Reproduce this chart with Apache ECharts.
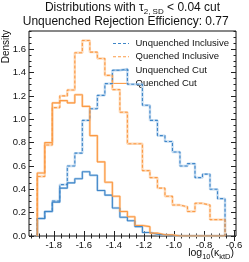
<!DOCTYPE html>
<html><head><meta charset="utf-8">
<script src="https://cdn.jsdelivr.net/npm/echarts@6/dist/echarts.min.js"></script>
<style>html,body{margin:0;padding:0;background:#fff}#c{width:249px;height:262px}</style>
</head><body><div id="c"></div>
<script>
const binEdges = [-1.91,-1.86,-1.81,-1.76,-1.71,-1.66,-1.61,-1.56,-1.51,-1.46,-1.41,-1.36,-1.31,-1.26,-1.21,-1.16,-1.11,-1.06,-1.01,-0.96,-0.91,-0.86,-0.81,-0.76,-0.71,-0.66];
const unquenchedInclusive = [0.15,0.21,0.30,0.44,0.60,0.71,0.99,1.09,1.205,1.305,1.42,1.43,1.30,1.30,1.12,0.99,0.86,0.81,0.72,0.60,0.62,0.50,0.53,0.40,0.32];
const quenchedInclusive = [0.51,0.78,1.10,1.20,1.25,1.57,1.675,1.575,1.52,1.376,1.254,1.06,0.79,0.79,0.56,0.50,0.41,0.34,0.265,0.25,0.21,0.28,0.265,0.14,0.14];
const unquenchedCut = [0.15,0.21,0.29,0.41,0.455,0.49,0.55,0.52,0.39,0.35,0.24,0.16,0.13,0.08,0.03,0.015,0.01,0.005,0,0,0,0,0,0,0];
const quenchedCut = [0.54,0.80,1.14,1.16,1.14,1.21,1.11,0.86,0.635,0.46,0.34,0.21,0.165,0.09,0.08,0.025,0.01,0.01,0,0,0,0,0,0,0];
const xMajorTicks = [-1.8,-1.6,-1.4,-1.2,-1.0,-0.8,-0.6];
const xMinorTicks = [-1.95,-1.9,-1.85,-1.75,-1.7,-1.65,-1.55,-1.5,-1.45,-1.35,-1.3,-1.25,-1.15,-1.1,-1.05,-0.95,-0.9,-0.85,-0.75,-0.7,-0.65];
const yMajorTicks = [0,0.2,0.4,0.6,0.8,1.0,1.2,1.4,1.6];
const yMinorTicks = [0.05,0.1,0.15,0.25,0.3,0.35,0.45,0.5,0.55,0.65,0.7,0.75,0.85,0.9,0.95,1.05,1.1,1.15,1.25,1.3,1.35,1.45,1.5,1.55,1.65,1.7,1.75];
const names = ['Unquenched Inclusive','Quenched Inclusive','Unquenched Cut','Quenched Cut'];

function stepData(vals){
  const last = binEdges.length-1;
  const d = [[binEdges[0],0]];
  vals.forEach((v,i)=>d.push([binEdges[i],v]));
  d.push([binEdges[last], vals[vals.length-1]]);
  d.push([binEdges[last], 0]);
  return d;
}
const XMIN=-1.965, XMAX=-0.587, YMIN=0, YMAX=1.756;
const FONT='Liberation Sans';
function xAx(pos, vals, len, labels){
  return {type:'value', gridIndex:0, position:pos, min:XMIN, max:XMAX,
    axisLine:{show:false}, splitLine:{show:false},
    axisTick:{show:true, inside:true, length:len, customValues:vals, lineStyle:{color:'#222',width:1}},
    axisLabel:{show:labels, customValues:vals, fontFamily:FONT, fontSize:9.5, color:'#111', margin:4,
      formatter:v=>v.toFixed(1)}};
}
function yAx(pos, vals, len, labels){
  return {type:'value', gridIndex:0, position:pos, min:YMIN, max:YMAX,
    axisLine:{show:false}, splitLine:{show:false},
    axisTick:{show:true, inside:true, length:len, customValues:vals, lineStyle:{color:'#222',width:1}},
    axisLabel:{show:labels, customValues:vals, fontFamily:FONT, fontSize:9.5, color:'#111', margin:3,
      formatter:v=>v.toFixed(1)}};
}
const BLUE='#3f86c8', ORANGE='#fb9a45';
const BLUE_L='#a9cbea', ORANGE_L='#fcc99a';
const styles = [
  {vals:unquenchedInclusive, color:BLUE, light:BLUE_L, dashed:true},
  {vals:quenchedInclusive, color:ORANGE, light:ORANGE_L, dashed:true},
  {vals:unquenchedCut, color:BLUE, light:BLUE_L, dashed:false},
  {vals:quenchedCut, color:ORANGE, light:ORANGE_L, dashed:false}
];
const series = [];
styles.forEach((s,i)=>{
  series.push({name:names[i]+' (band)', type:'line', step:'end', data:stepData(s.vals), symbol:'none', z:1,
    lineStyle:{color:s.light, width:2.4, opacity:0.7}, silent:true, animation:false});
});
styles.forEach((s,i)=>{
  series.push({name:names[i], type:'line', step:'end', data:stepData(s.vals), symbol:'none', z:2,
    lineStyle:{color:s.color, width:1.1, type: s.dashed ? [3,2] : 'solid'}, animation:false});
});
const legendGraphics = [];
styles.forEach((s,i)=>{
  const y = 43.5 + 13.3*i;
  legendGraphics.push({type:'line', shape:{x1:113, y1:y, x2:129, y2:y},
    style:{stroke:s.color, lineWidth:1.1, lineDash: s.dashed ? [3,2] : null}});
  legendGraphics.push({type:'text', x:135.5, y:y, style:{text:names[i], textAlign:'left', textVerticalAlign:'middle',
    font:'9.5px "Liberation Sans"', fill:'#111'}});
});
const chart = echarts.init(document.getElementById('c'), null, {renderer:'canvas'});
chart.setOption({
  animation:false,
  grid:{left:29, right:13, top:31, bottom:26, show:true, borderColor:'#111', borderWidth:1, backgroundColor:'transparent'},
  xAxis:[xAx('bottom', xMajorTicks, 5, true), xAx('bottom', xMinorTicks, 2.5, false), xAx('top', xMajorTicks, 5, false), xAx('top', xMinorTicks, 2.5, false)],
  yAxis:[yAx('left', yMajorTicks, 5, true), yAx('left', yMinorTicks, 2.5, false), yAx('right', yMajorTicks, 5, false), yAx('right', yMinorTicks, 2.5, false)],
  series,
  graphic:[
    {type:'text', x:132.5, y:8.5, style:{text:'{n|Distributions with τ}{s|2, SD}{n| < 0.04 cut}', textAlign:'center', textVerticalAlign:'middle',
      font:'12px "Liberation Sans"', fill:'#111',
      rich:{n:{fontSize:12, fontFamily:FONT, lineHeight:14, verticalAlign:'top', fill:'#111'},
            s:{fontSize:8, fontFamily:FONT, lineHeight:6, verticalAlign:'bottom', fill:'#111'}}}},
    {type:'text', x:125.7, y:22, style:{text:'Unquenched Rejection Efficiency: 0.77', textAlign:'center', textVerticalAlign:'middle',
      font:'12px "Liberation Sans"', fill:'#111'}},
    {type:'text', x:6, y:30, rotation:Math.PI/2, style:{text:'Density', textAlign:'right', textVerticalAlign:'middle',
      font:'10px "Liberation Sans"', fill:'#111'}},
    {type:'text', x:234, y:254, style:{text:'{n|log}{s|10}{n|(κ}{s|ktD}{n|)}', textAlign:'right', textVerticalAlign:'middle',
      font:'10.5px "Liberation Sans"', fill:'#111',
      rich:{n:{fontSize:10.5, fontFamily:FONT, lineHeight:13, verticalAlign:'top', fill:'#111'},
            s:{fontSize:7.5, fontFamily:FONT, lineHeight:5, verticalAlign:'bottom', fill:'#111'}}}},
    ...legendGraphics
  ]
});
</script></body></html>
